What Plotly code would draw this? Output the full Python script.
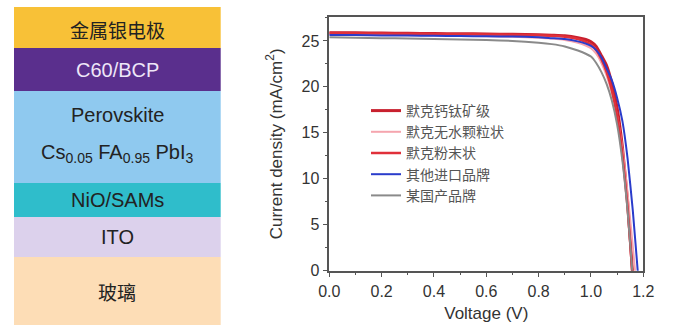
import plotly.graph_objects as go

# ---------------- data ----------------
layer_names = ["玻璃", "ITO", "NiO/SAMs", "Perovskite", "C60/BCP", "金属银电极"]
layer_thick = [68, 40, 34, 92, 43, 41]
layer_colors = ["#FDDDB6", "#DCD1EC", "#2FBDCB", "#8FC9EF", "#5A2F8D", "#F8C137"]
layer_text_colors = ["#222222", "#222222", "#222222", "#222222", "#EEE6F8", "#222222"]

voltage = [0, 0.1, 0.2, 0.3, 0.4, 0.5, 0.6, 0.7, 0.8, 0.85, 0.9, 0.95, 0.98, 1.0,
           1.02, 1.04, 1.06, 1.08, 1.10, 1.12, 1.14, 1.16, 1.18, 1.20]
j_perov = [25.9, 25.88, 25.85, 25.82, 25.8, 25.78, 25.75, 25.72, 25.68, 25.62, 25.55, 25.35,
           25.15, 24.9, 24.4, 23.4, 22.3, 20.4, 17.7, 13.5, 7.5, -0.7, -9.0, -17.0]
j_anhyd = [25.7, 25.68, 25.65, 25.62, 25.6, 25.55, 25.5, 25.45, 25.35, 25.25, 25.1, 24.8,
           24.5, 24.2, 23.6, 22.6, 21.2, 19.3, 16.8, 13.3, 8.4, 2.6, -3.6, -10.0]
j_powder = [25.85, 25.83, 25.8, 25.78, 25.75, 25.72, 25.7, 25.68, 25.62, 25.55, 25.45, 25.2,
            24.9, 24.6, 24.0, 23.0, 21.6, 19.6, 16.8, 12.7, 6.9, -1.0, -9.0, -17.0]
j_import = [25.65, 25.63, 25.6, 25.58, 25.55, 25.52, 25.5, 25.47, 25.4, 25.3, 25.2, 24.95,
            24.7, 24.45, 24.0, 23.2, 22.0, 20.7, 18.8, 16.3, 12.2, 6.5, -0.5, -8.0]
j_domestic = [25.4, 25.35, 25.3, 25.25, 25.2, 25.15, 25.1, 25.0, 24.8, 24.65, 24.4, 23.95,
              23.6, 23.3, 22.6, 21.6, 20.3, 18.5, 15.9, 12.0, 6.5, -0.8, -9.0, -17.0]

series_names = ["默克钙钛矿级", "默克无水颗粒状", "默克粉末状", "其他进口品牌", "某国产品牌"]
series_values = [j_perov, j_anhyd, j_powder, j_import, j_domestic]
series_colors = ["#C8202E", "#F5A5AE", "#E0303A", "#2A3CCB", "#8A8A8A"]
series_widths = [3, 2, 2.5, 2, 2]

x_ticks = [0.0, 0.2, 0.4, 0.6, 0.8, 1.0, 1.2]
y_ticks = [0, 5, 10, 15, 20, 25]

W, H = 674, 335

fig = go.Figure()

# ---------------- device stack (stacked bars) ----------------
for name, th, col in zip(layer_names, layer_thick, layer_colors):
    fig.add_trace(go.Bar(x=[0], y=[th], marker=dict(color=col, line=dict(width=0)),
                         width=1, xaxis="x2", yaxis="y2", showlegend=False,
                         hoverinfo="skip", name=name))

cum = 0
annotations = []
sans = "Liberation Sans, Arial, sans-serif"
cjk = "Noto Sans CJK SC"
for name, th, tcol in zip(layer_names, layer_thick, layer_text_colors):
    center = cum + th / 2
    cum += th
    is_cjk = any(ord(c) > 0x2E80 for c in name)
    font = dict(family=cjk if is_cjk else sans, size=19 if is_cjk else 20, color=tcol)
    if name == "Perovskite":
        annotations.append(dict(x=0, y=center, xref="x2", yref="y2", text="Perovskite",
                                showarrow=False, font=font, yshift=22))
        annotations.append(dict(x=0, y=center, xref="x2", yref="y2",
                                text="Cs<sub>0.05</sub> FA<sub>0.95</sub> PbI<sub>3</sub>",
                                showarrow=False, font=font, yshift=-16))
    else:
        dy = 2 if name == "金属银电极" else 0
        annotations.append(dict(x=0, y=center, xref="x2", yref="y2", text=name,
                                showarrow=False, font=font, yshift=-dy))

# ---------------- J-V curves ----------------
for name, vals, col, lw in zip(series_names, series_values, series_colors, series_widths):
    fig.add_trace(go.Scatter(x=voltage, y=vals, mode="lines", name=name,
                             line=dict(color=col, width=lw, shape="spline", smoothing=0.5),
                             cliponaxis=True))

axis_col = "#555555"
fig.update_layout(
    width=W, height=H,
    margin=dict(l=0, r=0, t=0, b=0),
    paper_bgcolor="white", plot_bgcolor="white",
    barmode="stack", bargap=0,
    annotations=annotations,
    font=dict(family=sans, color="#333333"),
    xaxis=dict(domain=[329.3 / W, 643.3 / W], range=[0, 1.2], tickvals=x_ticks,
               ticktext=[f"{v:.1f}" for v in x_ticks], automargin=False,
               showgrid=False, zeroline=False, showline=True, linecolor=axis_col, linewidth=1.5,
               mirror=True, ticks="outside", ticklen=5, tickwidth=1.2, tickcolor=axis_col,
               minor=dict(dtick=0.1, ticks="outside", ticklen=3, tickcolor=axis_col, showgrid=False),
               tickfont=dict(size=16, color="#333333"),
               title=dict(text="Voltage (V)", font=dict(size=17, color="#333333"), standoff=8)),
    yaxis=dict(domain=[1 - 270.7 / H, 1 - 17 / H], range=[0, 27.6], tickvals=y_ticks,
               automargin=False,
               showgrid=False, zeroline=False, showline=True, linecolor=axis_col, linewidth=1.5,
               mirror=True, ticks="outside", ticklen=5, tickwidth=1.2, tickcolor=axis_col,
               minor=dict(dtick=2.5, ticks="outside", ticklen=3, tickcolor=axis_col, showgrid=False),
               tickfont=dict(size=16, color="#333333"),
               title=dict(text="Current density (mA/cm<sup>2</sup>)",
                          font=dict(size=17, color="#333333"), standoff=15)),
    xaxis2=dict(domain=[14 / W, 220.7 / W], range=[-0.5, 0.5], visible=False, fixedrange=True),
    yaxis2=dict(domain=[1 - 325 / H, 1 - 7 / H], range=[0, sum(layer_thick)], visible=False,
                anchor="x2", fixedrange=True),
    legend=dict(x=366 / W, y=1 - 95 / H, xanchor="left", yanchor="top",
                bgcolor="rgba(0,0,0,0)", borderwidth=0, traceorder="normal",
                font=dict(family=cjk, size=14, color="#555555"),
                tracegroupgap=0, itemwidth=30),
    showlegend=True,
)

fig.write_html("out.html")
